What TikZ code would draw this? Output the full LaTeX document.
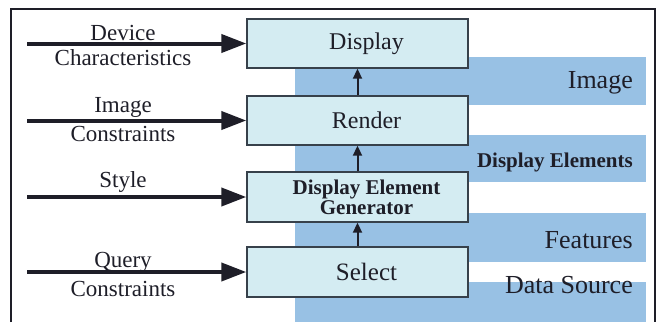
\documentclass[tikz,border=0pt]{standalone}
\usepackage{fontspec}
\setmainfont{Liberation Serif}
\usetikzlibrary{arrows.meta}
\definecolor{bandblue}{RGB}{152,193,228}
\definecolor{boxfill}{RGB}{212,236,242}
\definecolor{boxline}{RGB}{55,65,75}
\definecolor{ink}{RGB}{30,30,40}
\tikzset{
  procbox/.style={draw=boxline, line width=1.4pt, fill=boxfill, minimum width=221pt, inner sep=0pt},
  boxtext/.style={xshift=9pt, inner sep=0pt, text=ink, align=center, font=\fontsize{24}{24}\selectfont},
  inarrow/.style={line width=4pt, -{Triangle[length=25pt,width=18pt]}, ink},
  uparrow/.style={line width=2pt, -{Triangle[length=10pt,width=9pt]}, ink},
  lbl/.style={anchor=base, inner sep=0pt, text=ink, font=\fontsize{23}{23}\selectfont},
  rlbl/.style={anchor=base east, inner sep=0pt, text=ink, font=\fontsize{26}{26}\selectfont},
}
\begin{document}
\begin{tikzpicture}[x=1pt,y=-1pt]
\useasboundingbox (0,0) rectangle (661,322);
% blue bands
\fill[bandblue] (295,57) rectangle (646,105);
\fill[bandblue] (295,135) rectangle (646,182);
\fill[bandblue] (295,213) rectangle (646,262);
\fill[bandblue] (295,282) rectangle (646,322);
\fill[bandblue] (295,57) rectangle (468,322);
% frame
\draw[ink, line width=1.5pt] (11,322) -- (11,9) -- (655,9) -- (655,322);
% boxes
\node[procbox, minimum height=49pt, label={[boxtext]center:Display}] (disp) at (357.5,43.5) {};
\node[procbox, minimum height=49pt, label={[boxtext]center:Render}] (rend) at (357.5,120.5) {};
\node[procbox, minimum height=50pt, label={[boxtext, font=\bfseries\fontsize{21}{21}\selectfont]center:Display Element\\[-1pt]Generator}] (deg) at (357.5,197) {};
\node[procbox, minimum height=50pt, label={[boxtext, font=\fontsize{25}{25}\selectfont]center:Select}] (sel) at (357.5,272) {};
% up arrows
\draw[uparrow] (sel.north) -- (deg.south);
\draw[uparrow] (deg.north) -- (rend.south);
\draw[uparrow] (rend.north) -- (disp.south);
% input arrows
\coordinate (i1) at (27,43.5);
\coordinate (i2) at (27,120.5);
\coordinate (i3) at (27,197);
\coordinate (i4) at (27,272);
\draw[inarrow] (i1) -- (disp.west);
\draw[inarrow] (i2) -- (rend.west);
\draw[inarrow] (i3) -- (deg.west);
\draw[inarrow] (i4) -- (sel.west);
% left labels
\node[lbl] (l1a) at (123,40) {Device};
\node[lbl] (l1b) at (123,65) {Characteristics};
\node[lbl] (l2a) at (123,112) {Image};
\node[lbl] (l2b) at (123,141) {Constraints};
\node[lbl] (l3) at (123,187) {Style};
\node[lbl] (l4a) at (123,267) {Query};
\node[lbl] (l4b) at (123,296) {Constraints};
% right labels
\node[rlbl] (r1) at (633,88) {Image};
\node[rlbl, font=\bfseries\fontsize{21}{21}\selectfont] (r2) at (633,167) {Display Elements};
\node[rlbl] (r3) at (633,248) {Features};
\node[rlbl] (r4) at (633,293) {Data Source};
\end{tikzpicture}
\end{document}
